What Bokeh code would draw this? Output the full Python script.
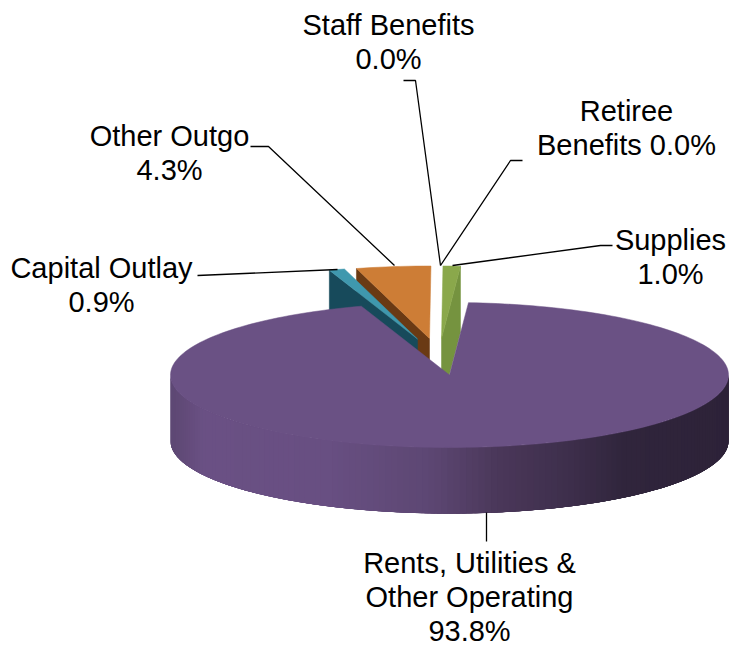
import math
from bokeh.core.properties import value
from bokeh.embed import file_html
from bokeh.models import Range1d
from bokeh.plotting import figure
from bokeh.resources import INLINE

# Budget shares, clockwise from the large slice
names = ["Rents, Utilities &\nOther Operating", "Capital Outlay", "Other Outgo",
         "Staff Benefits", "Retiree\nBenefits", "Supplies"]
shares = [93.8, 0.9, 4.3, 0.0, 0.0, 1.0]
top_colors = ["#6a5184", "#3f98ae", "#cd7d36", "#ffffff", "#ffffff", "#8aa84b"]
wall_colors = ["#5a4570", "#174a5b", "#6a3a14", "#ffffff", "#ffffff", "#75933f"]

# Pie projection (page pixels)
CX, CY, RX, RY, DEPTH = 449.0, 374.5, 279.0, 72.5, 66.0
START = 3.9
# Slice pull-out offsets
offsets = [(0, 0), (-32, -36), (-20, -36.5), (0, 0), (0, 0), (-8, -36.5)]

FONT = value("Liberation Sans")

p = figure(width=731, height=648, x_range=Range1d(0, 731), y_range=Range1d(648, 0),
           output_backend="svg", toolbar_location=None, min_border=0,
           outline_line_color=None, background_fill_color="white",
           border_fill_color="white")
p.xaxis.visible = False
p.yaxis.visible = False
p.grid.visible = False


def rim(theta, dx=0.0, dy=0.0, drop=0.0):
    t = math.radians(theta)
    return CX + dx + RX * math.sin(t), CY + dy + drop - RY * math.cos(t)


def arc(a, b, dx=0.0, dy=0.0, drop=0.0):
    n = max(2, int(abs(b - a) / 1.5))
    pts = [rim(a + (b - a) * i / n, dx, dy, drop) for i in range(n + 1)]
    return [q[0] for q in pts], [q[1] for q in pts]


def mix(stops, x):
    for (x0, c0), (x1, c1) in zip(stops, stops[1:]):
        if x <= x1:
            f = max(0.0, (x - x0) / (x1 - x0))
            rgb = [round(int(c0[i:i + 2], 16) * (1 - f) + int(c1[i:i + 2], 16) * f)
                   for i in (1, 3, 5)]
            return "#%02x%02x%02x" % tuple(rgb)
    return stops[-1][1]


# Angular extent of each slice
spans = []
a = START
for s in shares:
    b = a + s * 3.6
    spans.append((a, b))
    a = b

# Pulled-out slices, back to front; the edge that faces the viewer gets the wall
for i, edge in ((5, 1), (2, 0), (1, 0)):
    a, b = spans[i]
    dx, dy = offsets[i]
    ax, ay = CX + dx, CY + dy
    ex, ey = rim(spans[i][edge], dx, dy)
    p.patch([ex, ax, ax, ex], [ey, ay, ay + DEPTH, ey + DEPTH],
            fill_color=wall_colors[i], line_color=wall_colors[i], line_width=0.5)
    xs, ys = arc(a, b, dx, dy)
    p.patch([ax] + xs, [ay] + ys, fill_color=top_colors[i],
            line_color=top_colors[i], line_width=0.5)

# Shaded rim of the large slice: overlapping bands, so no seams show between them
wall_stops = [(170, "#5e4874"), (190, "#6a5084"), (300, "#684f82"), (400, "#5d4773"),
              (470, "#4a3759"), (540, "#3e2f4c"), (600, "#30253c"), (728, "#2d2238")]
steps = 140
for k in range(steps):
    a0 = 90 + 180 * k / steps
    a1 = 90 + 180 * (k + 1) / steps
    xs, ys = arc(max(90, a0 - 6), a1)
    mid_x = rim((a0 + a1) / 2)[0]
    c = mix(wall_stops, mid_x)
    p.patch(xs + xs[::-1], ys + [y + DEPTH for y in ys[::-1]],
            fill_color=c, line_color=None)

# Top of the large slice
a, b = spans[0]
xs, ys = arc(a, b)
p.patch([CX] + xs, [CY] + ys, fill_color=top_colors[0], line_color=top_colors[0],
        line_width=0.5)

# Leader lines
leaders = [
    ([486, 486], [512, 541]),
    ([197, 337], [275, 269]),
    ([250, 268, 394], [146, 146, 265]),
    ([403, 415, 440], [80, 80, 265]),
    ([522, 510, 440], [160, 160, 265]),
    ([612, 600, 452], [245, 245, 265]),
]
for lx, ly in leaders:
    p.line(lx, ly, line_color="black", line_width=1.3)

# Labels: centre x and the middle of the first text line
anchors = [(469, 562), (101, 267), (169, 135), (388, 24), (626, 110), (670, 239)]
LINE = 34
for name, share, (tx, ty) in zip(names, shares, anchors):
    pct = f"{share:.1f}%"
    parts = name.split("\n")
    if name.startswith("Retiree"):
        rows = [parts[0], f"{parts[1]} {pct}"]
    else:
        rows = parts + [pct]
    p.text([tx] * len(rows), [ty + j * LINE for j in range(len(rows))], text=rows,
           text_font=FONT, text_font_size="29px", text_color="black",
           text_align="center", text_baseline="middle")

open("out.html", "w").write(file_html(p, INLINE))
